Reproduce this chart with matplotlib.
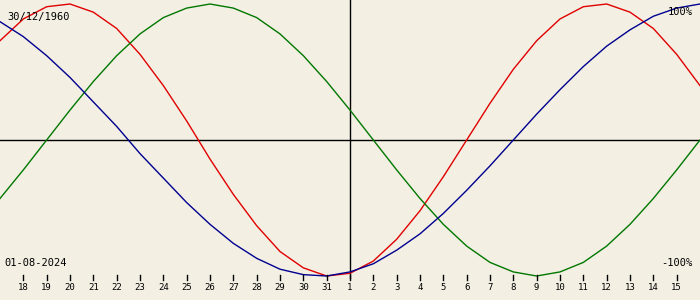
import matplotlib
matplotlib.use('Agg')
import matplotlib.pyplot as plt

# days relative to the target date (01-08-2024), one value per day
days = list(range(-15, 16))
day_labels = ['18', '19', '20', '21', '22', '23', '24', '25', '26', '27', '28', '29', '30', '31',
              '1', '2', '3', '4', '5', '6', '7', '8', '9', '10', '11', '12', '13', '14', '15']
label_days = list(range(-14, 15))

physical = [0.73, 0.89, 0.98, 1.00, 0.94, 0.82, 0.63, 0.40, 0.14, -0.14, -0.40, -0.63, -0.82, -0.94,
            -1.00, -0.98, -0.89, -0.73, -0.52, -0.27, 0.00, 0.27, 0.52, 0.73, 0.89, 0.98, 1.00,
            0.94, 0.82, 0.63, 0.40]
emotional = [-0.43, -0.22, 0.00, 0.22, 0.43, 0.62, 0.78, 0.90, 0.97, 1.00, 0.97, 0.90, 0.78, 0.62,
             0.43, 0.22, 0.00, -0.22, -0.43, -0.62, -0.78, -0.90, -0.97, -1.00, -0.97, -0.90,
             -0.78, -0.62, -0.43, -0.22, 0.00]
intellectual = [0.87, 0.76, 0.62, 0.46, 0.28, 0.10, -0.10, -0.28, -0.46, -0.62, -0.76, -0.87, -0.95,
                -0.99, -1.00, -0.97, -0.91, -0.81, -0.69, -0.54, -0.37, -0.19, 0.00, 0.19, 0.37,
                0.54, 0.69, 0.81, 0.91, 0.97, 1.00]

birth_text = '30/12/1960'
date_text = '01-08-2024'

bg = '#f3efe3'
fig = plt.figure(figsize=(7, 3), dpi=100, facecolor=bg)
ax = fig.add_axes([0, 0, 1, 1])
ax.set_facecolor(bg)
ax.set_xlim(-15, 15)
ax.set_ylim(-160 / 136, 140 / 136)
ax.axis('off')

# axes cross
ax.axhline(0, color='black', lw=1)
ax.plot([0, 0], [-138 / 136, 140 / 136], color='black', lw=1)

ax.plot(days, physical, color='#e00000', lw=1)
ax.plot(days, emotional, color='#007800', lw=1)
ax.plot(days, intellectual, color='#000090', lw=1)

# day ticks along the bottom
for d, lab in zip(label_days, day_labels):
    ax.plot([d, d], [-135 / 136, -140 / 136], color='black', lw=1)
    ax.text(d, -148 / 136, lab, ha='center', va='center', fontsize=6.5,
            family='DejaVu Sans Mono', color='black')

ax.text(0.011, 0.943, birth_text, transform=ax.transAxes, ha='left', va='center',
        fontsize=7.5, family='DejaVu Sans Mono')
ax.text(0.006, 0.122, date_text, transform=ax.transAxes, ha='left', va='center',
        fontsize=7.5, family='DejaVu Sans Mono')
ax.text(0.989, 0.96, '100%', transform=ax.transAxes, ha='right', va='center',
        fontsize=7.5, family='DejaVu Sans Mono')
ax.text(0.989, 0.122, '-100%', transform=ax.transAxes, ha='right', va='center',
        fontsize=7.5, family='DejaVu Sans Mono')

fig.savefig('out.png', dpi=100, facecolor=bg)
